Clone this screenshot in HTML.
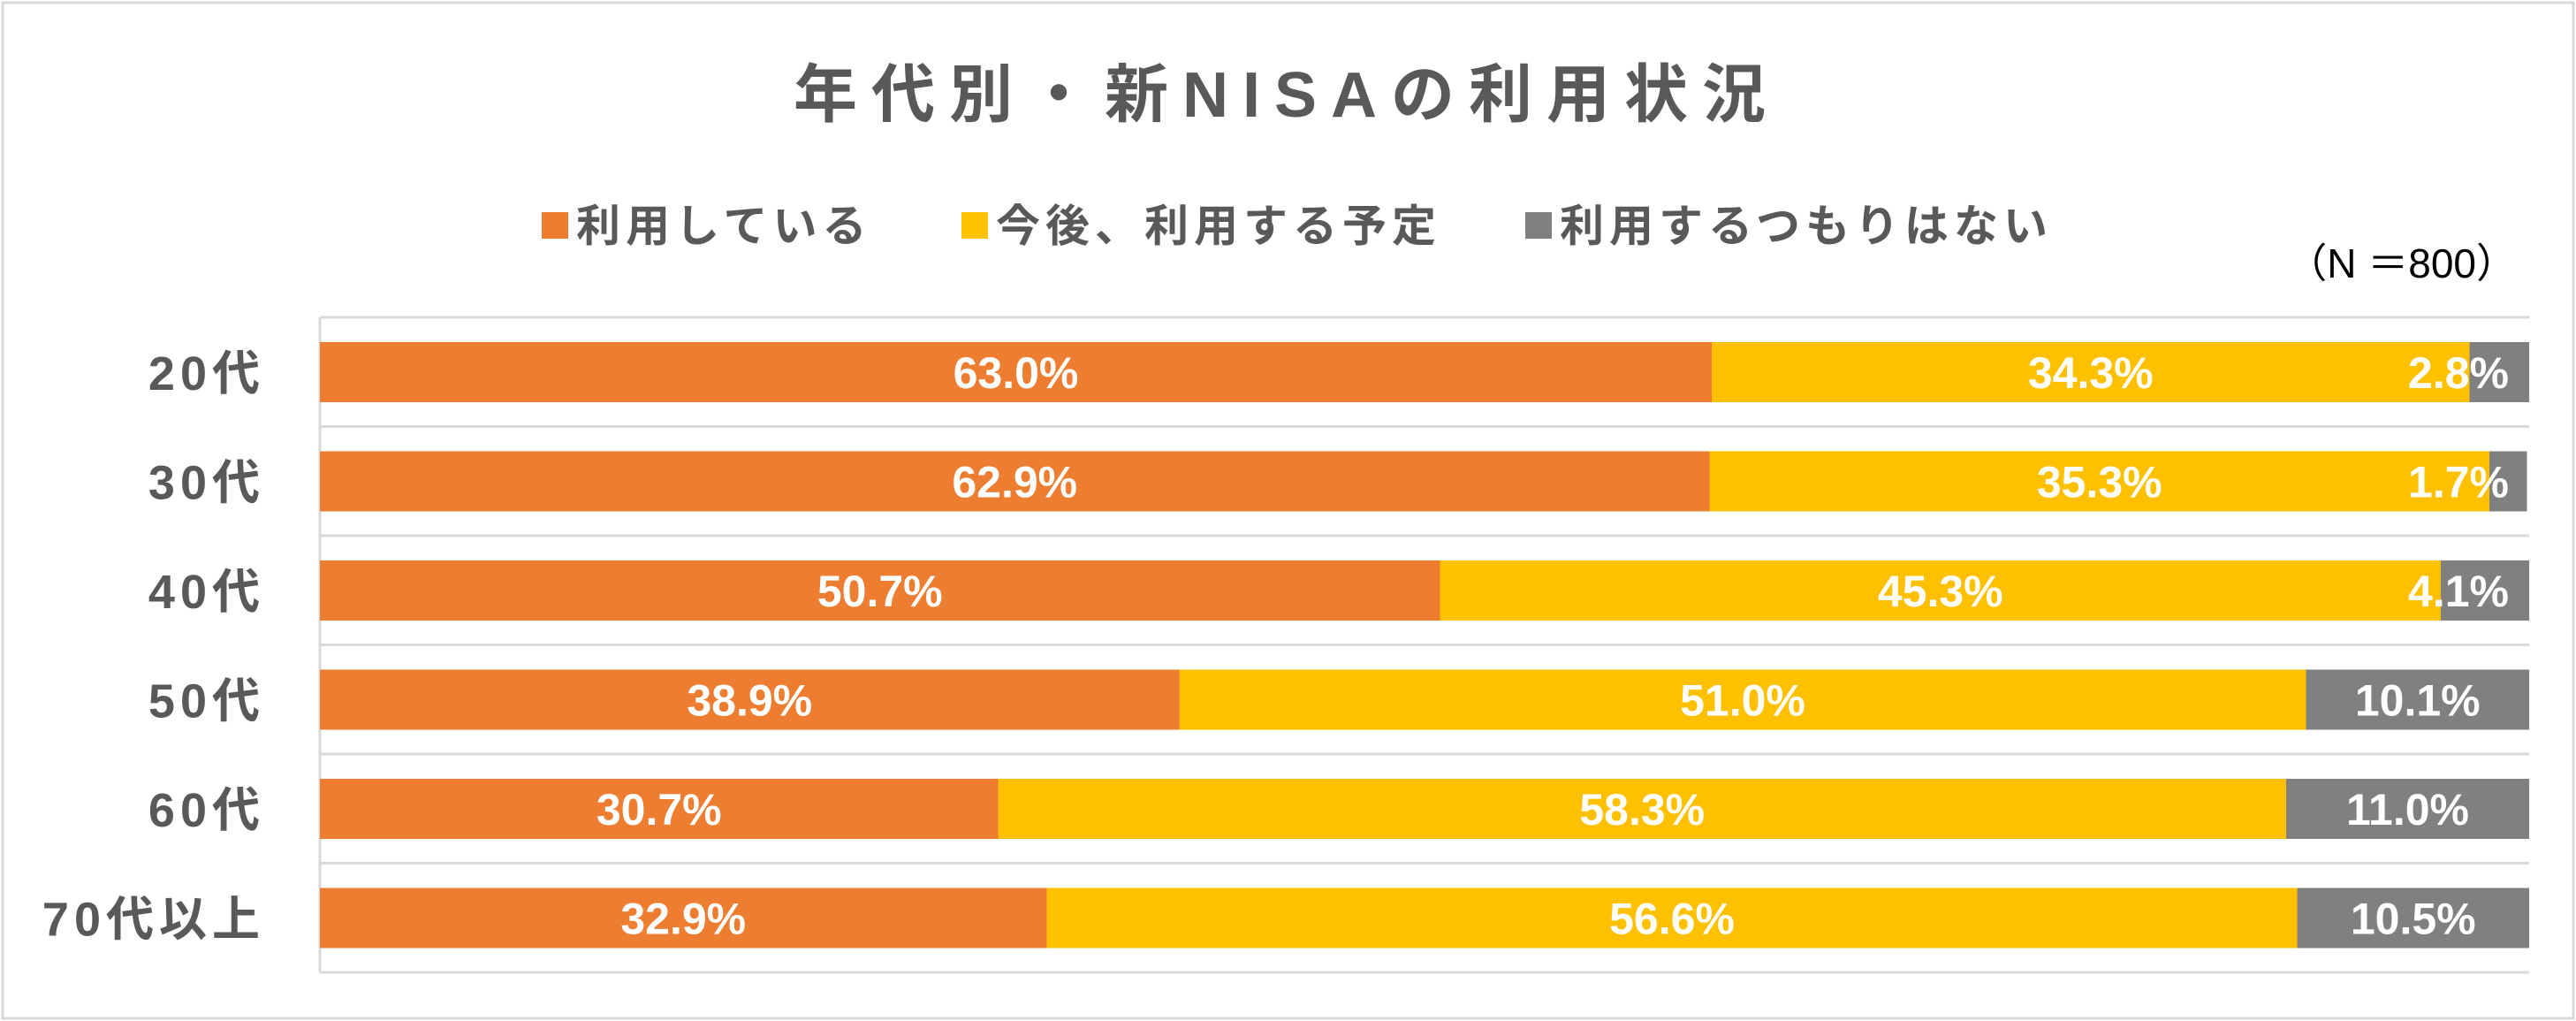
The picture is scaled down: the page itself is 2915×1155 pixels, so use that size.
<!DOCTYPE html>
<html><head><meta charset="utf-8">
<style>
body{margin:0;background:#fff;}
svg{display:block;}
text{font-family:"Liberation Sans","Noto Sans CJK JP",sans-serif;}
</style></head>
<body>
<svg id="chart" width="2915" height="1155" viewBox="0 0 2915 1155" xmlns="http://www.w3.org/2000/svg">
<rect x="3" y="3" width="2909" height="1149" fill="#fff" stroke="#d9d9d9" stroke-width="3"/>
<text x="1456" y="132" font-size="72" font-weight="bold" fill="#595959" text-anchor="middle" letter-spacing="16">年代別・新NISAの利用状況</text>
<g>
<rect x="613" y="240" width="30" height="30" fill="#ed7d31"/>
<text x="652" y="273" font-size="50" font-weight="bold" fill="#595959" letter-spacing="6">利用している</text>
<rect x="1088" y="240" width="30" height="30" fill="#ffc000"/>
<text x="1127" y="273" font-size="50" font-weight="bold" fill="#595959" letter-spacing="6">今後、利用する予定</text>
<rect x="1726" y="240" width="30" height="30" fill="#808080"/>
<text x="1765" y="273" font-size="50" font-weight="bold" fill="#595959" letter-spacing="6">利用するつもりはない</text>
</g>
<text x="2848" y="314" font-size="46" fill="#000" text-anchor="end">（N ＝800）</text>
<g id="plot"></g>
</svg>
<script>
const categories = ["20代","30代","40代","50代","60代","70代以上"];
const usingVals = [63.0, 62.9, 50.7, 38.9, 30.7, 32.9];
const planVals = [34.3, 35.3, 45.3, 51.0, 58.3, 56.6];
const notVals = [2.8, 1.7, 4.1, 10.1, 11.0, 10.5];
const seriesColors = ["#ed7d31","#ffc000","#808080"];
const seriesNames = ["using","planning","not"];

const NS="http://www.w3.org/2000/svg";
const plot=document.getElementById('plot');
const L=362,R=2862,T=359,B=1100;
const xScale=v=>L+(v/100)*(R-L);
const rowH=(B-T)/categories.length;
function mk(tag,attrs){const e=document.createElementNS(NS,tag);for(const k in attrs)e.setAttribute(k,attrs[k]);return e;}
for(let i=0;i<=categories.length;i++){
  const g=mk('line',{x1:L,x2:R,y1:T+i*rowH,y2:T+i*rowH,stroke:'#d9d9d9','stroke-width':3});
  
  
  plot.appendChild(g);
}
const ax=mk('line',{x1:L,x2:L,y1:T,y2:B,stroke:'#d9d9d9','stroke-width':3});


plot.appendChild(ax);
const all=[usingVals,planVals,notVals];
categories.forEach((c,i)=>{
  const y0=T+i*rowH+28, h=68;
  const lab=mk('text',{x:300,y:y0+h/2+20,'font-size':54,'font-weight':'bold',fill:'#595959','text-anchor':'end','letter-spacing':6});
  lab.textContent=c;
  
  
  plot.appendChild(lab);
  let cum=0;
  all.forEach((ser,s)=>{
    const v=ser[i];
    const x1=xScale(cum), x2=Math.min(xScale(cum+v),R);
    const r=mk('rect',{x:x1,y:y0,width:Math.max(0,x2-x1),height:h,fill:seriesColors[s]});
    
    
    plot.appendChild(r);
    let cx=(x1+x2)/2;
    const txt=v.toFixed(1)+'%';
    const half=txt.length*13;
    if(cx+half>R-28) cx=R-28-half;
    const t=mk('text',{x:cx,y:y0+h/2+18,'font-size':50,'font-weight':'bold',fill:'#fff','text-anchor':'middle','font-family':'"Liberation Sans Narrow","Liberation Sans",sans-serif'});
    t.textContent=txt;
    
    
    plot.appendChild(t);
    cum+=v;
  });
});
</script>
</body></html>
